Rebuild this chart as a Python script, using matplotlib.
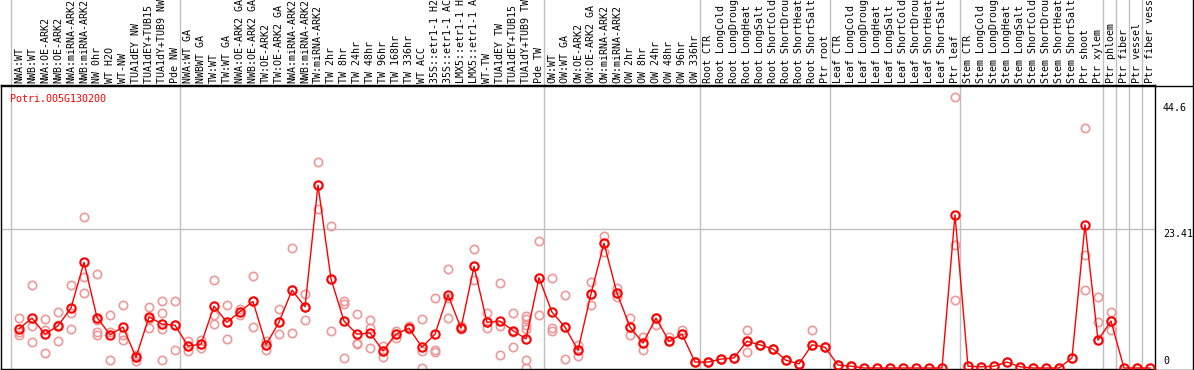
import numpy as np
import matplotlib
matplotlib.use("Agg")
import matplotlib.pyplot as plt
from matplotlib.lines import Line2D
import matplotlib.transforms as mtransforms

gene = "Potri.005G130200"

labels = [
    "NWA:WT", "NWB:WT", "NWA:OE-ARK2", "NWB:OE-ARK2", "NWA:miRNA-ARK2", "NWB:miRNA-ARK2",
    "NW 0hr", "WT H2O", "WT-NW", "TUA1dEY NW", "TUA1dEY+TUB15 NW", "TUA1dY+TUB9 NW", "Pde NW",
    "NWA:WT GA", "NWBWT GA", "TW:WT", "TW:WT GA", "NWA:OE-ARK2 GA", "NWB:OE-ARK2 GA",
    "TW:OE-ARK2", "TW:OE-ARK2 GA", "NWA:miRNA-ARK2", "NWB:miRNA-ARK2", "TW:miRNA-ARK2",
    "TW 2hr", "TW 8hr", "TW 24hr", "TW 48hr", "TW 96hr", "TW 168hr", "TW 336hr", "WT ACC",
    "35S::etr1-1 H2O", "35S::etr1-1 ACC", "LMX5::etr1-1 H2O", "LMX5::etr1-1 ACC", "WT-TW",
    "TUA1dEY TW", "TUA1dEY+TUB15 TW", "TUA1dY+TUB9 TW", "Pde TW",
    "OW:WT", "OW:WT GA", "OW:OE-ARK2", "OW:OE-ARK2 GA", "OW:miRNA-ARK2", "OW:miRNA-ARK2",
    "OW 2hr", "OW 8hr", "OW 24hr", "OW 48hr", "OW 96hr", "OW 336hr",
    "Root CTR", "Root LongCold", "Root LongDrought", "Root LongHeat", "Root LongSalt",
    "Root ShortCold", "Root ShortDrought", "Root ShortHeat", "Root ShortSalt", "Ptr root",
    "Leaf CTR", "Leaf LongCold", "Leaf LongDrought", "Leaf LongHeat", "Leaf LongSalt",
    "Leaf ShortCold", "Leaf ShortDrought", "Leaf ShortHeat", "Leaf ShortSalt", "Ptr leaf",
    "Stem CTR", "Stem LongCold", "Stem LongDrought", "Stem LongHeat", "Stem LongSalt",
    "Stem ShortCold", "Stem ShortDrought", "Stem ShortHeat", "Stem ShortSalt", "Ptr shoot",
    "Ptr xylem", "Ptr phloem", "Ptr fiber", "Ptr vessel", "Ptr fiber vessel",
]

# first category of each group (group separators)
group_starts = [0, 13, 41, 53, 63, 73, 84, 85, 86, 87]

means = [
    6.6, 8.4, 5.7, 7.1, 10.1, 17.8, 8.5, 5.6, 6.9, 1.8, 8.6, 7.4, 7.2,
    3.7, 4.0, 10.4, 7.7, 9.5, 11.2, 3.9, 7.7, 13.1, 10.3, 30.8, 15.0, 7.9, 5.7, 5.9, 2.9,
    5.7, 6.7, 3.5, 5.7, 12.3, 6.7, 17.1, 7.7, 7.9, 6.3, 4.9, 15.2,
    9.4, 6.9, 3.0, 12.5, 21.0, 12.6, 6.9, 4.2, 8.4, 4.5, 5.7, 1.0,
    1.0, 1.5, 1.7, 4.5, 3.9, 3.2, 1.3, 0.7, 3.9, 3.5,
    0.5, 0.3, 0.0, 0.0, 0.0, 0.0, 0.0, 0.0, 0.0, 25.8,
    0.3, 0.2, 0.3, 1.0, 0.2, 0.0, 0.0, 0.0, 1.7, 24.1, 4.7,
    7.9, 0.0, 0.0, 0.0,
]

reps = [
    [8.5, 6.0, 5.6], [13.9, 7.1, 4.3], [8.2, 6.4, 2.5], [9.5, 7.3, 4.5], [13.9, 9.3, 6.5],
    [25.4, 15.3, 12.6], [15.9, 8.0, 6.0, 5.5], [9.0, 6.0, 1.3], [10.6, 5.6, 4.7],
    [2.2, 1.2, 1.8], [10.3, 8.3, 6.7], [11.2, 9.2, 6.5, 1.3], [11.2, 7.2, 3.1],
    [4.5, 2.9, 3.7], [4.7, 3.4, 4.0], [14.8, 9.0, 7.4], [10.6, 7.7, 4.8], [10.0, 9.0, 9.5],
    [15.5, 11.2, 6.9], [4.5, 3.0, 3.9], [9.9, 7.7, 5.7], [20.2, 13.1, 5.9], [12.5, 10.3, 8.0],
    [34.6, 30.8, 26.7], [23.9, 15.0, 6.2], [11.2, 10.7, 1.6], [9.1, 4.2, 4.0],
    [8.0, 6.7, 3.3], [3.7, 1.8, 2.9], [6.3, 5.0, 5.7], [7.0, 6.7, 6.5], [8.2, 2.9, 0.0],
    [11.7, 3.0, 2.7], [16.6, 11.7, 8.4], [6.7, 6.5, 7.0], [20.1, 17.1, 14.8], [9.2, 6.8, 7.7],
    [14.3, 7.1, 2.2], [9.2, 6.0, 3.5], [8.8, 8.2, 7.3, 6.5, 1.3, 0.0], [21.4, 15.2, 8.9],
    [15.1, 6.7, 6.3], [12.3, 6.9, 1.5], [3.9, 2.0, 3.0], [14.5, 12.5, 10.6], [22.2, 21.0, 19.5],
    [13.5, 12.6, 12.0], [8.4, 6.9, 5.5], [5.2, 4.2, 3.0], [8.4, 7.2, 8.4], [5.2, 4.5, 4.5],
    [6.4, 5.7, 5.7], [1.0, 1.0, 1.0],
    [1.0, 1.0, 1.0], [1.5, 1.5, 1.5], [1.7, 1.7, 1.7], [6.4, 4.5, 2.7], [3.9, 3.9, 3.9],
    [3.2, 3.2, 3.2], [1.3, 1.3, 1.3], [0.7, 0.7, 0.7], [6.4, 3.9, 3.9], [3.5, 3.5, 3.5],
    [0.5, 0.5, 0.5], [0.3, 0.3, 0.3], [0.0], [0.0], [0.0], [0.0], [0.0], [0.0], [0.0],
    [45.6, 20.7, 11.4],
    [0.3], [0.2], [0.3], [1.0], [0.2], [0.0], [0.0], [0.0], [1.7],
    [40.4, 19.0, 13.1], [11.9, 7.7, 4.7], [9.4, 6.4, 7.9], [0.0], [0.0], [0.0],
]

ytick_vals = [44.6, 23.41, 0]

W, H = 1194, 370
fig = plt.figure(figsize=(W / 100, H / 100), dpi=100)
ax = fig.add_axes([1 / W, 1 / H, 1154 / W, 284 / H])

x = np.arange(len(labels))
pink = "#ee9999"
red = "#ff0000"
grey = "#c0c0c0"

for i, vals in enumerate(reps):
    ax.plot([i] * len(vals), vals, "o", ms=6, mfc="none", mec=pink, mew=1.2,
            clip_on=False, zorder=2)
ax.plot(x, means, "-", color=red, lw=1, zorder=3, clip_on=False)
ax.plot(x, means, "o", ms=6, mfc="none", mec=red, mew=1.5, zorder=4, clip_on=False)

ax.set_xlim(-1.385, 87.385)
ax.set_ylim(-0.168, 47.64)
ax.set_xticks([])
ax.set_yticks([])
for s in ax.spines.values():
    s.set_color("black")
    s.set_linewidth(1)

ax.axhline(23.41, color=grey, lw=1, zorder=1)

top_ext = 1 + 86 / 284
for g in group_starts:
    ax.plot([g - 0.6, g - 0.6], [0, top_ext], color=grey, lw=1,
            transform=ax.get_xaxis_transform(), clip_on=False, zorder=1)

trans = ax.get_xaxis_transform()
for i, lab in enumerate(labels):
    ax.text(i, 1 + 2 / 284, lab, transform=trans, rotation=90, ha="center",
            va="bottom", fontsize=7.2, family="DejaVu Sans Mono", color="black")

ax.text(-1.385 + 9 / 13, 46.2, gene, color=red, fontsize=7.2,
        family="DejaVu Sans Mono", va="top", ha="left")

ytrans = mtransforms.blended_transform_factory(fig.transFigure, ax.transData)
ax.text(1163 / W, 44.6, "44.6", transform=ytrans, va="top", ha="left",
        fontsize=7.2, family="DejaVu Sans Mono")
ax.text(1163 / W, 23.41, "23.41", transform=ytrans, va="top", ha="left",
        fontsize=7.2, family="DejaVu Sans Mono")
ax.text(1163 / W, 0.4, "0", transform=ytrans, va="bottom", ha="left",
        fontsize=7.2, family="DejaVu Sans Mono")

# frame lines reaching into the right margin
fig.add_artist(Line2D([1 / W, 1], [1 - 85.5 / H, 1 - 85.5 / H], color="black", lw=1,
                      transform=fig.transFigure))
fig.add_artist(Line2D([1 / W, 1], [0.5 / H, 0.5 / H], color="black", lw=1,
                      transform=fig.transFigure))
fig.add_artist(Line2D([1 - 1.5 / W, 1 - 1.5 / W], [0, 1], color="black", lw=1,
                      transform=fig.transFigure))

fig.savefig("out.png", dpi=100)
